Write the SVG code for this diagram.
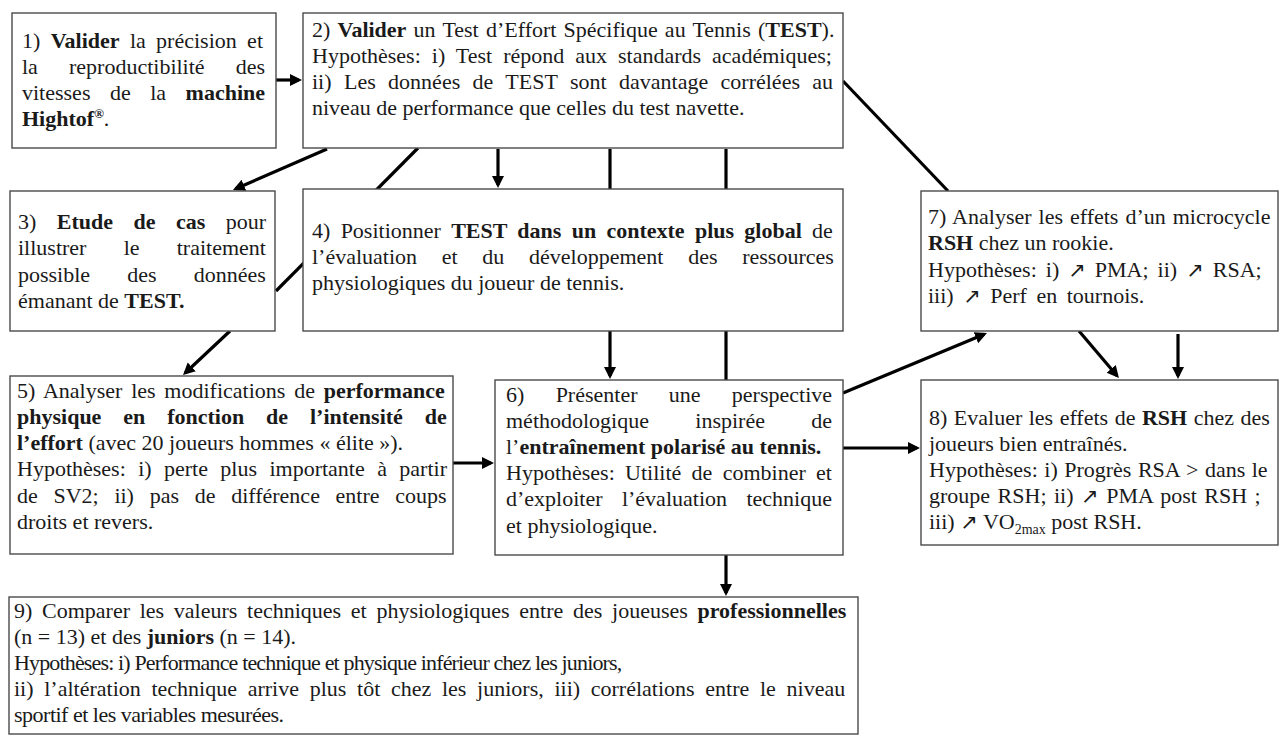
<svg xmlns="http://www.w3.org/2000/svg" width="1282" height="736" viewBox="0 0 1282 736">
<style>
.box{fill:#fff;stroke:#4a4a4a;stroke-width:1.4}
.t{font-family:"Liberation Serif","Times New Roman",serif;font-size:22px;fill:#1a1a1a}
.b{font-weight:bold}
.ar{font-family:"DejaVu Sans",sans-serif;font-size:21px}
.c{stroke:#000;stroke-width:3.2;fill:none}
</style>
<defs>
<marker id="ah" markerUnits="userSpaceOnUse" markerWidth="14" markerHeight="14" refX="9" refY="6" orient="auto">
<path d="M0,0 L12,6 L0,12 z" fill="#000"/>
</marker>
</defs>
<rect width="1282" height="736" fill="#fff"/>
<g id="connectors">
<line class="c" x1="276" y1="80" x2="299" y2="80" marker-end="url(#ah)"/>
<line class="c" x1="327" y1="149" x2="235.7" y2="188.8" marker-end="url(#ah)"/>
<line class="c" x1="418" y1="148" x2="276" y2="291"/>
<line class="c" x1="498" y1="149" x2="498" y2="185" marker-end="url(#ah)"/>
<line class="c" x1="610" y1="149" x2="610" y2="376" marker-end="url(#ah)"/>
<line class="c" x1="726" y1="149" x2="726" y2="593" marker-end="url(#ah)"/>
<line class="c" x1="843" y1="81" x2="948" y2="191"/>
<line class="c" x1="230" y1="331" x2="185.2" y2="373" marker-end="url(#ah)"/>
<line class="c" x1="453" y1="463" x2="491" y2="463" marker-end="url(#ah)"/>
<line class="c" x1="843" y1="393" x2="984.2" y2="334.2" marker-end="url(#ah)"/>
<line class="c" x1="843" y1="448" x2="917" y2="448" marker-end="url(#ah)"/>
<line class="c" x1="1079" y1="331" x2="1117" y2="375.7" marker-end="url(#ah)"/>
<line class="c" x1="1178" y1="334" x2="1178" y2="376" marker-end="url(#ah)"/>
</g>
<g id="n1">
<rect class="box" x="12" y="13" width="264" height="135"/>
<text class="t" x="22" y="48" word-spacing="4.85">1) <tspan class="b">Valider</tspan> la précision et</text>
<text class="t" x="22" y="74" word-spacing="25.6">la reproductibilité des</text>
<text class="t" x="22" y="100" word-spacing="14">vitesses de la <tspan class="b">machine</tspan></text>
<text class="t" x="22" y="126"><tspan class="b">Hightof<tspan dy="-8" font-size="13">®</tspan></tspan><tspan dy="8">.</tspan></text>
</g>
<g id="n2">
<rect class="box" x="303" y="13" width="540" height="135"/>
<text class="t" x="312" y="37" word-spacing="1.7">2) <tspan class="b">Valider</tspan> un Test d’Effort Spécifique au Tennis (<tspan class="b">TEST</tspan>).</text>
<text class="t" x="312" y="63" word-spacing="5.5">Hypothèses: i) Test répond aux standards académiques;</text>
<text class="t" x="312" y="89" word-spacing="6.9">ii) Les données de TEST sont davantage corrélées au</text>
<text class="t" x="312" y="115">niveau de performance que celles du test navette.</text>
</g>
<g id="n3">
<rect class="box" x="10" y="191" width="265" height="140"/>
<text class="t" x="18" y="229" word-spacing="14.95">3) <tspan class="b">Etude de cas</tspan> pour</text>
<text class="t" x="18" y="255" word-spacing="31.7">illustrer le traitement</text>
<text class="t" x="18" y="282" word-spacing="31.7">possible des données</text>
<text class="t" x="18" y="308">émanant de <tspan class="b">TEST.</tspan></text>
</g>
<g id="n4">
<rect class="box" x="303" y="189" width="540" height="142"/>
<text class="t" x="312" y="238" word-spacing="4.8">4) Positionner <tspan class="b">TEST dans un contexte plus global</tspan> de</text>
<text class="t" x="312" y="264" word-spacing="19.2">l’évaluation et du développement des ressources</text>
<text class="t" x="312" y="290">physiologiques du joueur de tennis.</text>
</g>
<g id="n5">
<rect class="box" x="10" y="376" width="443" height="178"/>
<text class="t" x="17" y="398" word-spacing="3.3">5) Analyser les modifications de <tspan class="b">performance</tspan></text>
<text class="t b" x="17" y="424" word-spacing="16.4">physique en fonction de l’intensité de</text>
<text class="t" x="17" y="450"><tspan class="b">l’effort</tspan> (avec 20 joueurs hommes « élite »).</text>
<text class="t" x="17" y="476" word-spacing="6.9">Hypothèses: i) perte plus importante à partir</text>
<text class="t" x="17" y="503" word-spacing="10.2">de SV2; ii) pas de différence entre coups</text>
<text class="t" x="17" y="529">droits et revers.</text>
</g>
<g id="n6">
<rect class="box" x="495" y="380" width="348" height="175"/>
<text class="t" x="506" y="402" word-spacing="25.8">6) Présenter une perspective</text>
<text class="t" x="506" y="428" word-spacing="40.8">méthodologique inspirée de</text>
<text class="t" x="506" y="454">l’<tspan class="b">entraînement polarisé au tennis.</tspan></text>
<text class="t" x="506" y="480" word-spacing="4.8">Hypothèses: Utilité de combiner et</text>
<text class="t" x="506" y="506" word-spacing="13.9">d’exploiter l’évaluation technique</text>
<text class="t" x="506" y="533">et physiologique.</text>
</g>
<g id="n7">
<rect class="box" x="921" y="191" width="357" height="140"/>
<text class="t" x="928" y="224" word-spacing="1.5">7) Analyser les effets d’un microcycle</text>
<text class="t" x="928" y="250"><tspan class="b">RSH</tspan> chez un rookie.</text>
<text class="t" x="928" y="277" word-spacing="3.5">Hypothèses: i) <tspan class="ar">↗</tspan> PMA; ii) <tspan class="ar">↗</tspan> RSA;</text>
<text class="t" x="928" y="303" word-spacing="4">iii) <tspan class="ar">↗</tspan> Perf en tournois.</text>
</g>
<g id="n8">
<rect class="box" x="921" y="380" width="357" height="165"/>
<text class="t" x="929" y="425" word-spacing="1">8) Evaluer les effets de <tspan class="b">RSH</tspan> chez des</text>
<text class="t" x="929" y="451">joueurs bien entraînés.</text>
<text class="t" x="929" y="477" word-spacing="1">Hypothèses: i) Progrès RSA &gt; dans le</text>
<text class="t" x="929" y="503" word-spacing="2">groupe RSH; ii) <tspan class="ar">↗</tspan> PMA post RSH ;</text>
<text class="t" x="929" y="529">iii) <tspan class="ar">↗</tspan> VO<tspan dy="5" font-size="14">2max</tspan><tspan dy="-5"> post RSH.</tspan></text>
</g>
<g id="n9">
<rect class="box" x="9" y="597" width="849" height="137"/>
<text class="t" x="14" y="618" word-spacing="4.2">9) Comparer les valeurs techniques et physiologiques entre des joueuses <tspan class="b">professionnelles</tspan></text>
<text class="t" x="14" y="644">(n = 13) et des <tspan class="b">juniors</tspan> (n = 14).</text>
<text class="t" x="14" y="670" letter-spacing="-0.85">Hypothèses: i) Performance technique et physique inférieur chez les juniors,</text>
<text class="t" x="14" y="696" word-spacing="5.2">ii) l’altération technique arrive plus tôt chez les juniors, iii) corrélations entre le niveau</text>
<text class="t" x="14" y="722" letter-spacing="-0.5">sportif et les variables mesurées.</text>
</g>
</svg>
